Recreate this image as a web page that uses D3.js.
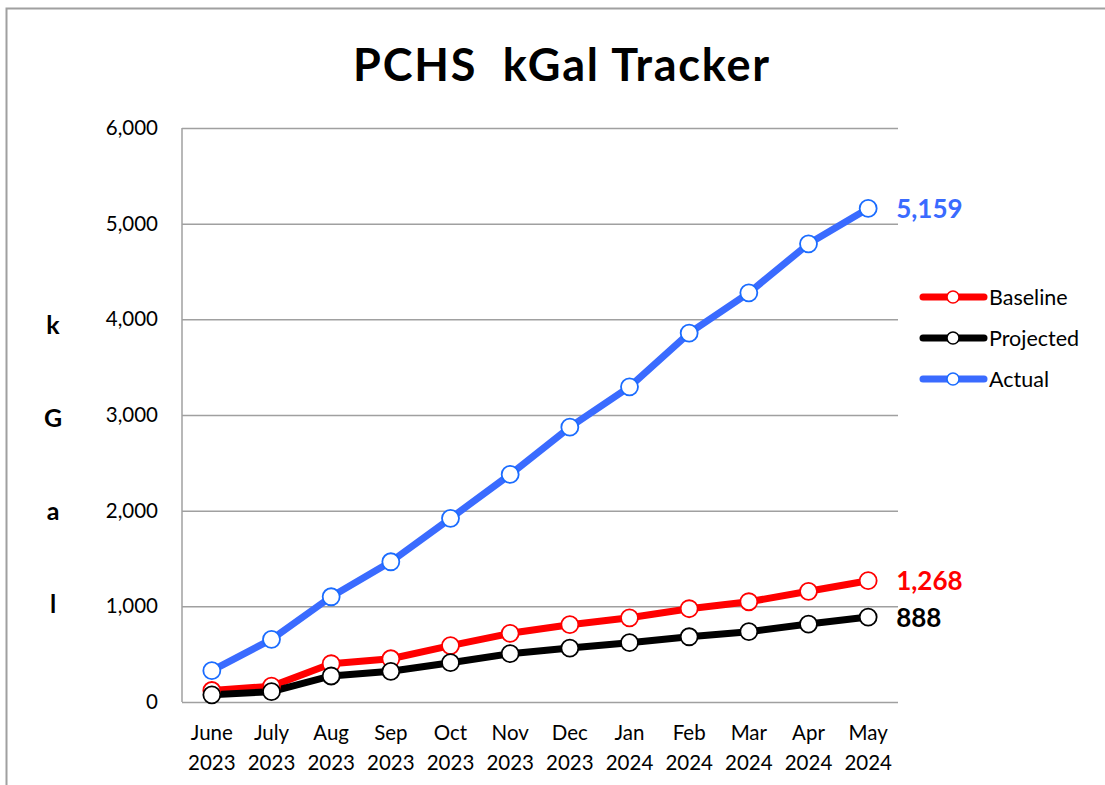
<!DOCTYPE html>
<html>
<head>
<meta charset="utf-8">
<script src="https://cdn.jsdelivr.net/npm/d3@7"></script>
<style>
  html, body { margin: 0; padding: 0; background: #fff; }
  svg { display: block; font-family: Lato, "Liberation Sans", sans-serif; }
</style>
</head>
<body>
<svg id="chart" width="1105" height="785"></svg>
<script>
const categories = ["June 2023","July 2023","Aug 2023","Sep 2023","Oct 2023","Nov 2023","Dec 2023","Jan 2024","Feb 2024","Mar 2024","Apr 2024","May 2024"];
const baseline  = [120, 165, 400, 452, 590, 718, 808, 880, 975, 1048, 1157, 1268];
const projected = [75, 108, 272, 321, 411, 505, 564, 620, 682, 735, 815, 888];
const actual    = [327, 655, 1100, 1466, 1920, 2379, 2873, 3295, 3856, 4277, 4789, 5159];
const yTicks = [0, 1000, 2000, 3000, 4000, 5000, 6000];
const seriesNames = ["Baseline", "Projected", "Actual"];
const seriesColors = ["#ff0000", "#000000", "#3a6bff"];
const markerColors = ["#ff0000", "#000000", "#1a6cff"];
const yTitleLetters = ["k", "G", "a", "l"];

const series = [baseline, projected, actual].map((vals, i) => ({
  name: seriesNames[i], values: vals, color: seriesColors[i], mcolor: markerColors[i]
}));

const svg = d3.select("#chart");

// outer chart border
svg.append("rect").attr("x", 6.5).attr("y", 8.5).attr("width", 1200).attr("height", 900)
  .attr("fill", "none").attr("stroke", "#a0a0a0").attr("stroke-width", 2);

const pLeft = 182, pRight = 898, pTop = 128, pBottom = 702;
const x = d3.scaleBand().domain(categories).range([pLeft, pRight]);
const y = d3.scaleLinear().domain([0, 6000]).range([pBottom, pTop]);
const cx = d => x(d) + x.bandwidth() / 2;

// title
svg.append("text").attr("x", 562).attr("y", 81).attr("text-anchor", "middle")
  .attr("font-size", 45).attr("font-weight", "bold").attr("fill", "#000")
  .attr("letter-spacing", 1.8)
  .style("white-space", "pre").text("PCHS  kGal Tracker");

// gridlines + y axis
const yAxis = d3.axisLeft(y).tickValues(yTicks).tickSize(-(pRight - pLeft)).tickPadding(24)
  .tickFormat(d3.format(","));
const gy = svg.append("g").attr("transform", `translate(${pLeft},0)`).call(yAxis);
gy.select(".domain").remove();
gy.selectAll(".tick line").attr("stroke", "#a0a0a0").attr("stroke-width", 1.5);
gy.selectAll(".tick text").attr("font-size", 20.5).attr("fill", "#000")
  .attr("font-family", "Lato, sans-serif");

// left axis line
svg.append("line").attr("x1", pLeft).attr("x2", pLeft).attr("y1", pTop).attr("y2", pBottom)
  .attr("stroke", "#a0a0a0").attr("stroke-width", 1.5);

// x axis labels (two lines)
const xAxis = d3.axisBottom(x).tickSize(0).tickPadding(0);
const gx = svg.append("g").attr("transform", `translate(0,${pBottom})`).call(xAxis);
gx.select(".domain").remove();
gx.selectAll(".tick text").remove();
gx.selectAll(".tick").each(function(d) {
  const parts = d.split(" ");
  const t = d3.select(this).append("text").attr("text-anchor", "middle")
    .attr("font-size", 20.5).attr("fill", "#000").attr("font-family", "Lato, sans-serif");
  t.append("tspan").attr("x", 0).attr("y", 38).text(parts[0]);
  t.append("tspan").attr("x", 0).attr("y", 68).text(parts[1]);
});

// y title letters
const yTitleY = d3.scalePoint().domain(yTitleLetters).range([334, 613]);
svg.selectAll("text.ytitle").data(yTitleLetters).enter().append("text")
  .attr("class", "ytitle").attr("x", 53).attr("y", d => yTitleY(d))
  .attr("text-anchor", "middle").attr("font-size", 25).attr("font-weight", "bold")
  .text(d => d);

// lines
const line = d3.line().x((d, i) => cx(categories[i])).y(d => y(d));
const order = [2, 0, 1];
order.forEach(si => {
  const s = series[si];
  svg.append("path").datum(s.values).attr("d", line).attr("fill", "none")
    .attr("stroke", s.color).attr("stroke-width", 7).attr("stroke-linejoin", "round");
});
order.forEach(si => {
  const s = series[si];
  svg.append("g").selectAll("circle").data(s.values).enter().append("circle")
    .attr("cx", (d, i) => cx(categories[i])).attr("cy", d => y(d)).attr("r", 8.5)
    .attr("fill", "#fff").attr("stroke", s.mcolor).attr("stroke-width", 1.8);
});

// end labels
const last = categories.length - 1;
series.forEach((s, i) => {
  svg.append("text").attr("x", cx(categories[last]) + 28)
    .attr("y", y(s.values[last]) + 9.5)
    .attr("font-size", 26).attr("font-weight", "bold").attr("fill", s.color)
    .text(d3.format(",")(s.values[last]));
});

// legend
const legY = d3.scalePoint().domain(seriesNames).range([297, 379]);
series.forEach(s => {
  const g = svg.append("g").attr("transform", `translate(0,${legY(s.name)})`);
  g.append("line").attr("x1", 923).attr("x2", 984).attr("y1", 0).attr("y2", 0)
    .attr("stroke", s.color).attr("stroke-width", 7).attr("stroke-linecap", "round");
  g.append("circle").attr("cx", 953).attr("cy", 0).attr("r", 6)
    .attr("fill", "#fff").attr("stroke", s.mcolor).attr("stroke-width", 1.5);
  g.append("text").attr("x", 989).attr("y", 7.5).attr("font-size", 21.5).attr("fill", "#000")
    .text(s.name);
});
</script>
</body>
</html>
